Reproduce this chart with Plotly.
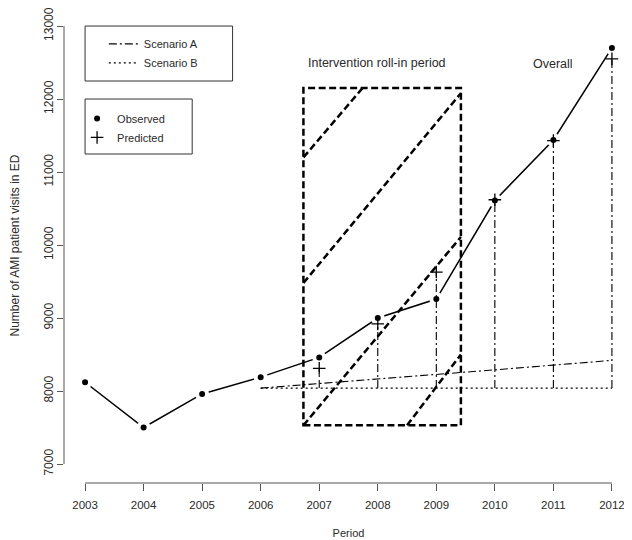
import plotly.graph_objects as go

# ---- data ----
years = [2003, 2004, 2005, 2006, 2007, 2008, 2009, 2010, 2011, 2012]
observed = [8120, 7500, 7960, 8190, 8460, 9000, 9260, 10610, 11440, 12700]

pred_years = [2007, 2008, 2009, 2010, 2011, 2012]
predicted = [8310, 8920, 9630, 10620, 11430, 12550]

scen_years = [2006, 2007, 2008, 2009, 2010, 2011, 2012]
scenario_a = [8040, 8100, 8165, 8230, 8290, 8355, 8420]
scenario_b = [8040, 8040, 8040, 8040, 8040, 8040, 8040]

y_ticks = [7000, 8000, 9000, 10000, 11000, 12000, 13000]
y_tick_labels = ["7000", "8000", "9000", "10000", "11000", "12000", "13000"]
x_tick_labels = ["2003", "2004", "2005", "2006", "2007", "2008", "2009", "2010", "2011", "2012"]

# roll-in period region (years / visits)
roll_x = [2006.73, 2009.42]
roll_y = [7530, 12150]
hatch = [  # (x0, y0, x1, y1)
    (2006.73, 11200, 2007.74, 12150),
    (2006.73, 9480, 2009.42, 12080),
    (2006.73, 7530, 2009.42, 10110),
    (2008.50, 7530, 2009.42, 8500),
]

FONT = "Liberation Sans, Arial, sans-serif"
TXT = "#2a2a2a"
AX = "#555555"

# vertical difference lines from Scenario B to the predicted values
b_at = dict(zip(scen_years, scenario_b))
vx, vy = [], []
for yr, p in zip(pred_years, predicted):
    vx += [yr, yr, None]
    vy += [b_at[yr], p, None]

fig = go.Figure()
fig.add_trace(go.Scatter(
    x=scen_years, y=scenario_a, mode="lines", name="Scenario A",
    line=dict(color="black", width=1.1, dash="8px,3px,2px,3px"), legend="legend"))
fig.add_trace(go.Scatter(
    x=scen_years, y=scenario_b, mode="lines", name="Scenario B",
    line=dict(color="black", width=1.3, dash="2px,3px"), legend="legend"))
fig.add_trace(go.Scatter(
    x=years, y=observed, mode="lines", showlegend=False, hoverinfo="skip",
    line=dict(color="black", width=1.5)))
fig.add_trace(go.Scatter(
    x=years, y=observed, mode="markers", name="Observed",
    marker=dict(symbol="circle", size=10, color="black", line=dict(color="white", width=4)),
    legend="legend2"))
fig.add_trace(go.Scatter(
    x=vx, y=vy, mode="lines", showlegend=False, hoverinfo="skip",
    line=dict(color="black", width=1.1, dash="8px,3px,2px,3px")))
fig.add_trace(go.Scatter(
    x=pred_years, y=predicted, mode="markers", name="Predicted",
    marker=dict(symbol="cross-thin", size=9, color="black", line=dict(color="black", width=1.3)),
    legend="legend2"))

shapes = []
# roll-in box
shapes.append(dict(type="rect", xref="x", yref="y", x0=roll_x[0], x1=roll_x[1], y0=roll_y[0], y1=roll_y[1],
                   line=dict(color="black", width=2.5, dash="7px,3.5px")))
for x0, y0, x1, y1 in hatch:
    shapes.append(dict(type="line", xref="x", yref="y", x0=x0, y0=y0, x1=x1, y1=y1,
                       line=dict(color="black", width=2.5, dash="7px,3.5px")))
# R-style axis lines
shapes.append(dict(type="line", xref="x", yref="paper", x0=years[0], x1=years[-1], y0=0, y1=0,
                   line=dict(color=AX, width=1)))
shapes.append(dict(type="line", xref="paper", yref="y", x0=0, x1=0, y0=y_ticks[0], y1=y_ticks[-1],
                   line=dict(color=AX, width=1)))
# legend boxes
shapes.append(dict(type="rect", xref="x", yref="y", x0=2003, x1=2005.52, y0=12247, y1=13000,
                   line=dict(color="#333", width=1)))
shapes.append(dict(type="rect", xref="x", yref="y", x0=2003, x1=2004.83, y0=11247, y1=12000,
                   line=dict(color="#333", width=1)))

fig.update_layout(
    width=632, height=540,
    margin=dict(l=56, r=7, t=0, b=65),
    paper_bgcolor="white", plot_bgcolor="white",
    font=dict(family=FONT, color=TXT, size=12),
    shapes=shapes,
    legend=dict(x=0.070, y=0.955, xanchor="left", yanchor="top", bgcolor="rgba(0,0,0,0)",
                borderwidth=0, font=dict(size=11, color=TXT), itemwidth=30, tracegroupgap=0),
    legend2=dict(x=0.023, y=0.798, xanchor="left", yanchor="top", bgcolor="rgba(0,0,0,0)",
                 borderwidth=0, font=dict(size=11, color=TXT), itemwidth=30, tracegroupgap=0),
    annotations=[
        dict(x=2007.98, y=12490, xref="x", yref="y", text="Intervention roll-in period",
             showarrow=False, font=dict(size=12.5, color=TXT)),
        dict(x=2011.0, y=12480, xref="x", yref="y", text="Overall",
             showarrow=False, font=dict(size=12.5, color=TXT)),
    ],
)
fig.update_xaxes(range=[2002.64, 2012.36], tickvals=years, ticktext=x_tick_labels,
                 ticks="outside", ticklen=7, automargin=False, ticklabeloverflow="allow",
                 tickcolor=AX, showgrid=False, zeroline=False, showline=False,
                 tickfont=dict(size=11.5, color=TXT), ticklabelstandoff=4,
                 title=dict(text="Period", font=dict(size=11, color=TXT), standoff=19))
fig.update_yaxes(range=[6740, 13247], tickvals=y_ticks, ticktext=y_tick_labels,
                 ticks="outside", ticklen=6, automargin=False, ticklabeloverflow="allow",
                 tickcolor=AX, showgrid=False, zeroline=False, showline=False, tickangle=-90,
                 tickfont=dict(size=12, color=TXT), ticklabelstandoff=-1,
                 title=dict(text="Number of AMI patient visits in ED", font=dict(size=12, color=TXT), standoff=22))

fig.write_html("out.html")
